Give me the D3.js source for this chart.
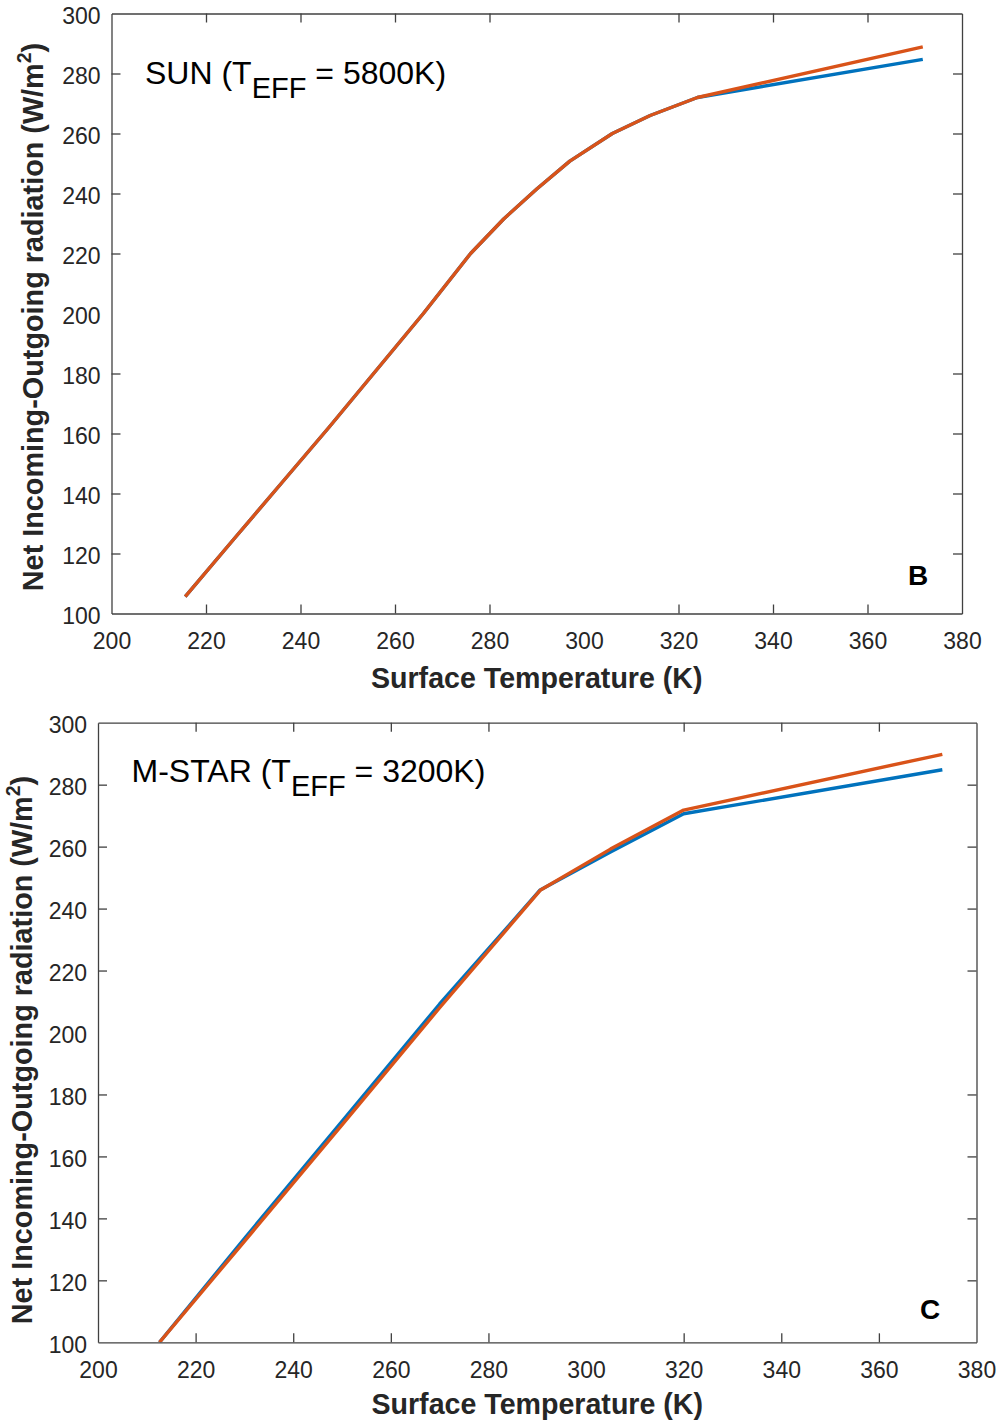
<!DOCTYPE html>
<html>
<head>
<meta charset="utf-8">
<script src="https://cdn.jsdelivr.net/npm/d3@7"></script>
<style>
  html, body { margin: 0; padding: 0; background: #fff; }
  svg { display: block; font-family: "Liberation Sans", Arial, Helvetica, sans-serif; }
</style>
</head>
<body>
<svg id="chart" width="1000" height="1422"></svg>
<script>
// Net incoming minus outgoing radiation versus surface temperature
// for a Sun-like star (panel B) and an M dwarf (panel C).

// Panel B: Sun (T_eff = 5800 K)
const sunTemp   = [215.6, 226, 236, 246, 256, 266, 276, 283, 290, 297, 306, 314, 324, 371.7];
const sunBlue   = [105.6, 125, 143.5, 162, 181, 200, 220, 231.5, 241.5, 250.8, 260, 266, 272, 284.7];
const sunOrange = [105.6, 125, 143.5, 162, 181, 200, 220, 231.5, 241.5, 250.8, 260, 266, 272, 288.9];

// Panel C: M-star (T_eff = 3200 K)
const mTemp   = [212.6, 230, 250, 270, 290.6, 305, 320, 373];
const mBlue   = [100, 133.5, 171.3, 209.2, 246, 258.3, 270.6, 284.8];
const mOrange = [100, 132.6, 170.2, 208, 245.9, 259.2, 271.8, 289.8];

// Axis ticks shared by both panels
const xTicks = [200, 220, 240, 260, 280, 300, 320, 340, 360, 380];
const yTicks = [100, 120, 140, 160, 180, 200, 220, 240, 260, 280, 300];

const xLabel = "Surface Temperature (K)";
const yLabelMain = "Net Incoming-Outgoing radiation (W/m";

const COLOR_BLUE = "#0072BD";
const COLOR_ORANGE = "#D95319";
const AXIS_COLOR = "#404040";
const TEXT_COLOR = "#262626";

const svg = d3.select("#chart");

const panels = [
  {
    box: { left: 111.5, right: 962, top: 13.5, bottom: 613.5 },
    temp: sunTemp, blue: sunBlue, orange: sunOrange,
    star: "SUN", teff: "5800K",
    letter: "B", letterPos: [918, 585],
    notePos: [145, 83.5],
    xTitleY: 688, yTitleX: 43, yTitleY: 317
  },
  {
    box: { left: 98, right: 976.5, top: 722.7, bottom: 1342.3 },
    temp: mTemp, blue: mBlue, orange: mOrange,
    star: "M-STAR", teff: "3200K",
    letter: "C", letterPos: [930, 1319],
    notePos: [131.5, 781.5],
    xTitleY: 1414, yTitleX: 31.5, yTitleY: 1050
  }
];

panels.forEach(p => {
  const b = p.box;
  const x = d3.scaleLinear().domain([200, 380]).range([b.left, b.right]);
  const y = d3.scaleLinear().domain([100, 300]).range([b.bottom, b.top]);
  const g = svg.append("g");

  // clip so lines stay inside the axes box
  const clipId = "clip-" + p.letter;
  svg.append("clipPath").attr("id", clipId)
    .append("rect")
    .attr("x", b.left).attr("y", b.top)
    .attr("width", b.right - b.left).attr("height", b.bottom - b.top);

  // series
  const line = d3.line().x(d => x(d[0])).y(d => y(d[1]));
  const seriesBlue = p.temp.map((t, i) => [t, p.blue[i]]);
  const seriesOrange = p.temp.map((t, i) => [t, p.orange[i]]);
  const lines = g.append("g").attr("clip-path", `url(#${clipId})`);
  lines.append("path").datum(seriesBlue)
    .attr("d", line).attr("fill", "none")
    .attr("stroke", COLOR_BLUE).attr("stroke-width", 3.4)
    .attr("stroke-linejoin", "round");
  lines.append("path").datum(seriesOrange)
    .attr("d", line).attr("fill", "none")
    .attr("stroke", COLOR_ORANGE).attr("stroke-width", 3.4)
    .attr("stroke-linejoin", "round");

  // axes: inward ticks on all four sides, labels on bottom and left
  const tickLen = 9;
  const styleAxis = sel => {
    sel.select(".domain").attr("stroke", AXIS_COLOR).attr("stroke-width", 1.3);
    sel.selectAll(".tick line").attr("stroke", AXIS_COLOR).attr("stroke-width", 1.3);
    sel.selectAll("text").attr("fill", TEXT_COLOR).style("font-size", "23px")
      .style("font-family", "'Liberation Sans', Arial, sans-serif");
  };

  g.append("g")
    .attr("transform", `translate(0,${b.bottom})`)
    .call(d3.axisBottom(x).tickValues(xTicks).tickSizeInner(-tickLen).tickSizeOuter(0).tickPadding(19))
    .call(styleAxis);

  g.append("g")
    .attr("transform", `translate(0,${b.top})`)
    .call(d3.axisTop(x).tickValues(xTicks).tickSizeInner(-tickLen).tickSizeOuter(0).tickFormat(""))
    .call(styleAxis);

  const yAxisL = g.append("g")
    .attr("transform", `translate(${b.left},0)`)
    .call(d3.axisLeft(y).tickValues(yTicks).tickSizeInner(-tickLen).tickSizeOuter(0).tickPadding(11))
    .call(styleAxis);
  yAxisL.selectAll("text").attr("dy", "0.44em");

  g.append("g")
    .attr("transform", `translate(${b.right},0)`)
    .call(d3.axisRight(y).tickValues(yTicks).tickSizeInner(-tickLen).tickSizeOuter(0).tickFormat(""))
    .call(styleAxis);

  // remove tick marks sitting on the box corners
  g.selectAll(".tick line").filter(function () {
    const v = d3.select(this.parentNode).datum();
    return v === 200 || v === 380 || v === 100 || v === 300;
  }).attr("display", "none");

  // x axis title
  g.append("text")
    .attr("x", (b.left + b.right) / 2).attr("y", p.xTitleY)
    .attr("text-anchor", "middle")
    .attr("fill", TEXT_COLOR)
    .style("font-size", "28.6px").style("font-weight", "bold")
    .text(xLabel);

  // y axis title with superscript
  const yt = g.append("text")
    .attr("transform", `translate(${p.yTitleX},${p.yTitleY}) rotate(-90)`)
    .attr("text-anchor", "middle")
    .attr("fill", TEXT_COLOR)
    .style("font-size", "28.8px").style("font-weight", "bold");
  yt.append("tspan").text(yLabelMain);
  yt.append("tspan").attr("dy", -12).style("font-size", "19.5px").text("2");
  yt.append("tspan").attr("dy", 12).text(")");

  // star annotation with subscript
  const note = g.append("text")
    .attr("x", p.notePos[0]).attr("y", p.notePos[1])
    .attr("fill", "#000")
    .style("font-size", "32px");
  note.append("tspan").text(p.star + " (T");
  note.append("tspan").attr("dy", 14.5).style("font-size", "29px").text("EFF");
  note.append("tspan").attr("dy", -14.5).text(" = " + p.teff + ")");

  // panel letter
  g.append("text")
    .attr("x", p.letterPos[0]).attr("y", p.letterPos[1])
    .attr("text-anchor", "middle")
    .attr("fill", "#000")
    .style("font-size", "28px").style("font-weight", "bold")
    .text(p.letter);
});
</script>
</body>
</html>
